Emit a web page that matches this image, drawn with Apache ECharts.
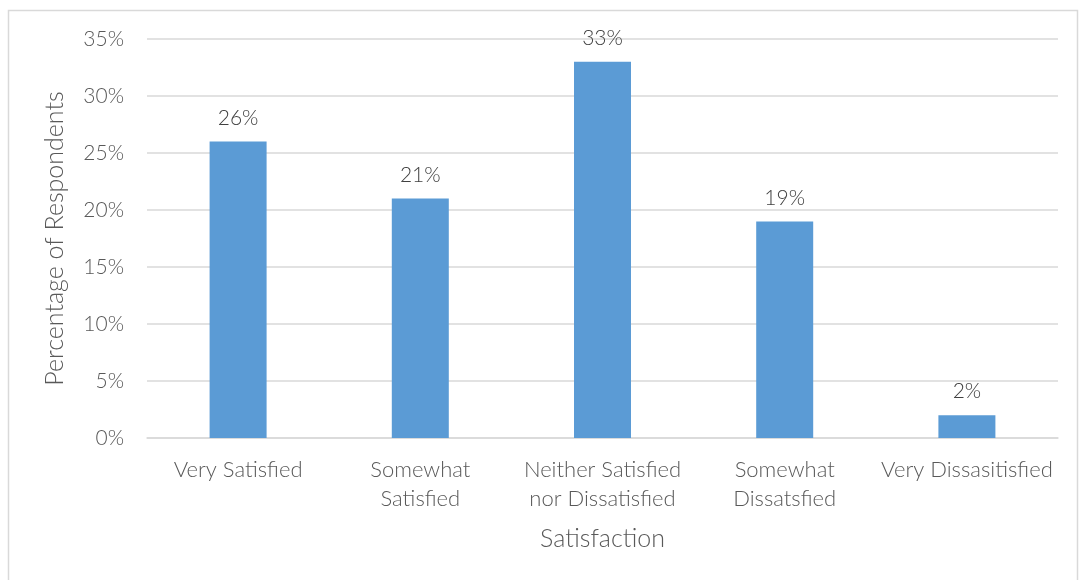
<!DOCTYPE html>
<html>
<head>
<meta charset="utf-8">
<script src="https://cdn.jsdelivr.net/npm/echarts@6/dist/echarts.min.js"></script>
<style>
  html, body { margin: 0; padding: 0; background: #fff; }
  #chart { width: 1081px; height: 580px; }
</style>
</head>
<body>
<div id="chart"></div>
<script>
const categories = ['Very Satisfied', 'Somewhat\nSatisfied', 'Neither Satisfied\nnor Dissatisfied', 'Somewhat\nDissatsfied', 'Very Dissasitisfied']
const percentages = [26, 21, 33, 19, 2]

const fontFamily = 'Lato, "Open Sans", sans-serif'
const textGray = '#595959'

const chart = echarts.init(document.getElementById('chart'))

chart.setOption({
  animation: false,
  textStyle: { fontFamily: fontFamily },
  graphic: [{
    type: 'rect',
    shape: { x: 8.5, y: 10.5, width: 1069, height: 600 },
    style: { fill: 'none', stroke: '#d9d9d9', lineWidth: 1.5 },
    silent: true
  }],
  grid: { left: 147, right: 23, top: 39, bottom: 142 },
  xAxis: {
    type: 'category',
    data: categories,
    name: 'Satisfaction',
    nameLocation: 'middle',
    nameGap: 88,
    nameTextStyle: { fontSize: 25, color: textGray, fontWeight: 300 },
    axisLine: { lineStyle: { color: '#d9d9d9', width: 1.5 } },
    axisTick: { show: false },
    axisLabel: { fontSize: 22, color: textGray, fontWeight: 300, lineHeight: 29, margin: 17, interval: 0 }
  },
  yAxis: {
    type: 'value',
    min: 0,
    max: 35,
    interval: 5,
    name: 'Percentage of Respondents',
    nameLocation: 'middle',
    nameGap: 80,
    nameTextStyle: { fontSize: 25, color: textGray, fontWeight: 300 },
    axisLabel: { formatter: '{value}%', fontSize: 21, color: textGray, fontWeight: 300, margin: 23 },
    splitLine: { lineStyle: { color: '#d9d9d9', width: 1.5 } },
    axisLine: { show: false },
    axisTick: { show: false }
  },
  series: [{
    type: 'bar',
    data: percentages,
    barWidth: 57,
    itemStyle: { color: '#5B9BD5' },
    label: {
      show: true,
      position: 'top',
      distance: 13,
      formatter: '{c}%',
      fontSize: 21,
      color: '#404040',
      fontWeight: 300
    }
  }]
})
</script>
</body>
</html>
